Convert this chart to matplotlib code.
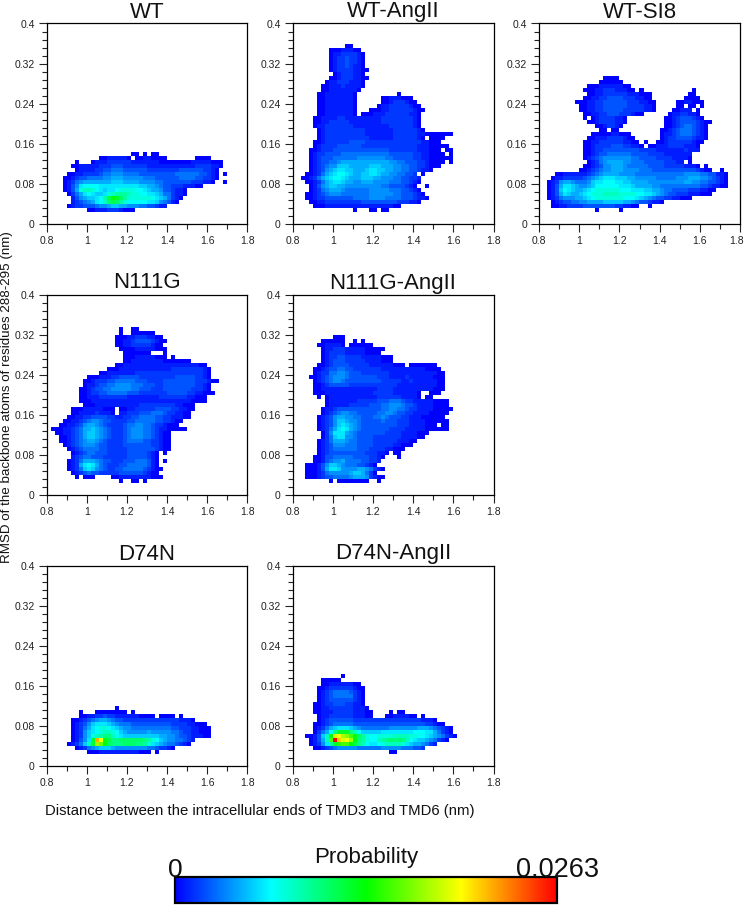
import numpy as np
import matplotlib
matplotlib.use('Agg')
import matplotlib.pyplot as plt
from matplotlib.colors import LinearSegmentedColormap, Normalize
from matplotlib.cm import ScalarMappable
from matplotlib.ticker import MultipleLocator
from matplotlib.transforms import ScaledTranslation

plt.rcParams['font.family'] = ['Liberation Sans', 'DejaVu Sans']

# each string is one row of bins, top row first, last row is bin 3
# '.' = empty bin, 0-9a-z = probability level (z is the maximum)
WT = [
".....................00.0.00",
".............00111110.00110000.......0000",
".......0..." "0111222222" "1111111000" "0000011111" "000",
"......00111" "1122233322" "2222111111" "1111112222" "110",
".......0111" "1223344433" "3333222222" "2233333322" "10",
".....001122" "2234455544" "4433333333" "3444444332" "10.0",
"....0012334" "4445566655" "5554443333" "3344443322" "10",
"....0124566" "6666677766" "6655554433" "3333322211" "0..0",
"....0135899" "9988888888" "8877665433" "22211100",
"....0136abb" "a987889aaa" "a998766533" "2110",
".....024689" "8778abcccb" "aa99887644" "2110",
"......13567" "789cfhgeca" "aaaaa98764" "210",
"......12345" "689befeca9" "9999887543" "10",
".....012233" "3455677665" "554433211",
"..........001112221000",
]
WT_ANGII = [
".............00",
".........00011100",
".........011222210",
".........012232210",
".........012232210",
".........012232110",
".........0122221100",
"..........01222110",
".........0012221100",
"........0112221110",
".......00111211110",
".......0011111110",
"......0011111110..........0",
"......0011111110......00111000",
"......0011111110......001222100",
"......0011111110.....01122222100",
"......0011111110...00011222222100",
"......0011111110.000111222222110",
"....." "0011112211" "1111111222" "2222210",
"....." "0011222221" "1111111222" "2222210",
"....." "0112222222" "1111111112" "2222210",
"......" "0122222222" "2211111112" "2222210",
"......" "0122222222" "2211111112" "2222211000" "0000",
"......" "0122222222" "2221111112" "2222210" ".0000",
"....." "0012222223" "3332222222" "2222222110" "00",
"....." "0122223333" "3322222222" "2222221110" "0000",
"...." "0012223333" "3333333333" "2222222111" "000.00",
"...." "0122333344" "4444444444" "3333332211" "0000.0",
"...." "0123334444" "4455555554" "4333332211" "000000",
"...." "0123344566" "6666666666" "5544333221" "0000.0",
"...." "0123455777" "6666677766" "6554433221" "000",
"...." "0123567887" "7666788776" "6554433211" "0",
"..." "0012467899" "8766778876" "65544332" ".0",
".." "0012467899" "8766677766" "5554433221",
"..." "001246788" "7665566655" "5544433210",
"...." "0135677665" "5555555544" "3333210" "..0",
"...." "0124566654" "4444455555" "44433210",
"..." "0012345554" "4444445555" "5544333210",
"..." "0012233333" "3344445555" "4444333211" "0",
"...." "0011222222" "2223333333" "33222110",
"....." "0001111111" "1111111111" "00",
"...............0...00.00",
]
WT_SI8 = [
"................0000",
"...............000000",
"............00011111100",
"...........0001122211100.0............0",
"............0011222222111000.........00",
"...........00112233332221100........0000",
".........0001122333" "3332221100" ".....0011000",
"..........0011223333" "332222110" ".....00.00.0",
"..........0011223333" "322222110" "....00111.0",
"...........00112233" "3222100" "......01122110",
"...........0.012222110" ".........0012333210",
"............0012222110" ".........001233332100",
"..............0012210" "..........00123443210",
"...............00.00" "..........001234443210",
".............0000011000" ".......011234443210",
"............001112222100" "......012233332110",
"...........00112222221100" ".0..001222222100",
"...........001222233322110" ".0011122221110",
"..........." "0012233333" "3333222211" "111112111",
"..........." "0012334444" "4433332222" "1111111",
"..........." "0123455555" "5544333322" "2211110",
"............" "0124566665" "5444333332" "2211" ".0",
"..........." "0012355666" "5444443333" "222221110" ".0",
".........." "0012345566" "6555544433" "3333333332" "100..0",
"...." "0011111123" "4566665555" "4444444444" "4455554433" "110",
"..." "0112222234" "5678887776" "6555554444" "4555666554" "3210",
".." "0125665444" "5788999887" "7666655555" "5555665544" "33210",
".." "0136887655" "6799999988" "8766665544" "4444444433" "21100",
".." "0137987667" "89aaaaaa99" "9888776654" "4333322211" "00",
".." "0136876678" "9aaabbbbaa" "aa99887654" "3322211100" "0",
".." "0124555667" "89aaaaaaa9" "9987654332" "211000",
"..." "0123344556" "6667777766" "54332110",
"..." "0011222233" "3333332211" "00..0",
"..............0.....0",
]
N111G = [
"..................0..00",
"..................0..000000",
".................000112221100",
".................0011233332100",
".................001122222100",
"..................000011111000",
"...................0000000...0",
"...................00011111000.0",
"...................00111111110000000",
".................0011111111" "1111111111" "100",
"...............0001111111" "1111112222" "222210",
".............0011111112" "2222222222" "22222210",
"..........0001112233" "3332222222" "2233333221" "0",
".........0012223344" "4443332222" "3333333322" "2100",
".........0112334455" "5544433322" "3333333322" "10",
"........0012334455" "5554433322" "2333333322" "210",
"........0012233444" "4433322222" "2233333221" "1000",
"........0011122222" "2211111111" "2222222110" "00",
"........0001111111" "1111111111" "1111111100" "00",
".........0001111111" "1111222222" "22211000",
"......00011111000.0011222223333221100",
"......00111121110.112223334443221100",
".....0011223333" "2211223344" "4433221110" "0",
"....0011234554" "3322223344" "4443322100",
"...0011235665" "4322223445" "5443221000",
".0001123466" "7654322234" "5554432110" "0000",
"..001123467" "7654322234" "5554432100",
"...00123467" "7654322234" "5554432100",
"...00123456" "6543222234" "4443322100",
"....0123455" "5433222233" "3333322100",
".....012344" "4433222223" "3333332100",
"......012344" "3332222233" "333210.0",
"......123443" "3322222233" "333210",
".....0124666" "5433222333" "444310.0",
".....0126898" "6432223344" "444310",
".....0124787" "5432233444" "4432100",
"......012343" "3222223333" "332100",
".......0.000....0011111111000",
"..................0..00.0",
]
N111G_ANGII = [
"..........000",
".......000000..0.0",
"......0011110.000000",
".......0112221111100000",
".......012222111110000",
".......012233222211111000",
".......012333222221111000",
"......0012333322" "2221111110" "00.0000000",
".....0012334433" "2222222111" "1111111100" "00",
".....0122445543" "3322222221" "1111111111" "100",
"....0012345554" "3333333222" "1111211111" "1000",
".....0123455433" "3333333222" "2211211111" "100",
".....0012333332" "2222222222" "2111111111" "100",
".....0011111111" "1111112222" "1111111111" "000",
".....0001111111" "1111122222" "1111110..000",
"......0.0111111111" "1112222221" "1110.00",
"........0111111122" "2223334443" "2211111000" "0",
"........0111112222" "2333445554" "3321111000" "0",
".......0112333333" "3333344554" "4322111100" "000",
".......0123455443" "3333445543" "3221111000" "00",
"......0123566554" "4333445433" "3221110000" "00",
"......0123577655" "4333334333" "2221111000" "000",
"......0123578765" "4333333333" "2221111000.00",
"......0124689865" "4333333322" "2211111000" "000",
".......0258886" "5433333332" "2221111000",
".......0247885" "5433332222" "222111100",
"......01246665" "4433332222" "2211100",
"......01235554" "4433332222" "211000",
"......01234444" "4433322221" "1000",
"......01233333" "3333222110.00",
".....00133444" "4433332210...0",
".....00134556" "444433221",
"...00013577" "6544433210",
"...00013688" "7555566542" "10",
"...00012455" "5556776420",
"...00012334" "4445666521" "00",
".........0.00000000..0",
]
D74N = [
".................0",
"........0...00000000.0",
"........0011223221" "111110000.0000.0",
"......0012345665" "4332222222" "2222222111" "0",
"......0123578887" "6544433333" "3333322221" "1000",
"......0124689aa9" "8765544444" "4444433222" "11000",
"......0125789abb" "a976555556" "5555544322" "11000",
"......01257abcdd" "b987777777" "7766554332" "11100",
"......01358gtqhf" "ddeeeeeedc" "a976554432" "1",
".....01247bgnlh" "edddeeeddc" "a876544321" "0",
".......0124567776" "5555555544" "32210",
"..........0001111111111000.0",
]
D74N_ANGII = [
"............0",
".......00000",
".......0011111100",
"......001222222100",
"......012344443210",
"......012344444210",
"......012333333210",
".....0012233322110",
".....00112222221110",
".....001112222211100....0.00",
"......01122222211100...00111100.0",
"......0123333332" "2222222222" "2222221110",
".....0012344444" "3333333333" "3333333322" "100",
".....0124678887" "6544444445" "5555556665" "43210",
".....02469dgggd" "b977777888" "8888899988" "64210",
"...00137bhpqn" "mkheca99aa" "aabbbbaa99" "87654210",
"....0136bkzspq" "nhdca99bcd" "ededb98776" "54210",
"....01258cgjkk" "hfdb9889ab" "bbba876654" "21",
".....0012345555" "5444444555" "55444332",
"........................00",
]

PANEL_TITLES = ['WT', 'WT-AngII', 'WT-SI8', 'N111G', 'N111G-AngII', 'D74N', 'D74N-AngII']
PANEL_ROWS = [WT, WT_ANGII, WT_SI8, N111G, N111G_ANGII, D74N, D74N_ANGII]
X_TICKS = [0.8, 1, 1.2, 1.4, 1.6, 1.8]
Y_TICKS = [0, 0.08, 0.16, 0.24, 0.32, 0.4]
PROB_MAX = 0.0263
X_LABEL = 'Distance between the intracellular ends of TMD3 and TMD6 (nm)'
Y_LABEL = 'RMSD of the backbone atoms of residues 288-295 (nm)'

W, H = 745, 905
# left, top of each panel in pixels
positions = [(46.5, 23.5), (292.5, 23.5), (539, 23.5),
             (46.5, 294.5), (292.5, 294.5),
             (46.5, 565.5), (292.5, 565.5)]
BOX_W, BOX_H = 201, 200.5

cmap = LinearSegmentedColormap.from_list('prob', ['#0000ff', '#00ffff', '#00ff00', '#ffff00', '#ff0000'])
norm = Normalize(0, PROB_MAX)


def to_grid(rows):
    grid = np.full((50, 50), np.nan)
    for k, row in enumerate(reversed(rows)):
        for c, ch in enumerate(row):
            if ch != '.':
                grid[k + 3, c] = int(ch, 36) / 35 * PROB_MAX
    return grid


def px_axes(fig, left, top, width, height):
    return fig.add_axes([left / W, 1 - (top + height) / H, width / W, height / H])


fig = plt.figure(figsize=(W / 100, H / 100), dpi=100)
x_edges = np.linspace(0.8, 1.8, 51)
y_edges = np.linspace(0, 0.4, 51)

for title, rows, (left, top) in zip(PANEL_TITLES, PANEL_ROWS, positions):
    ax = px_axes(fig, left, top, BOX_W, BOX_H)
    ax.pcolormesh(x_edges, y_edges, to_grid(rows), cmap=cmap, norm=norm, antialiased=False)
    ax.set_xlim(0.8, 1.8)
    ax.set_ylim(0, 0.4)
    ax.set_xticks(X_TICKS)
    ax.set_xticklabels(['%g' % v for v in X_TICKS])
    ax.set_yticks(Y_TICKS)
    ax.set_yticklabels(['%g' % v for v in Y_TICKS])
    ax.xaxis.set_minor_locator(MultipleLocator(0.1))
    ax.yaxis.set_minor_locator(MultipleLocator(0.016))
    ax.tick_params(which='major', length=6, width=0.8, labelsize=7.5, pad=2.5, colors='#222222')
    ax.tick_params(which='minor', length=3.5, width=0.8, colors='#222222')
    for s in ax.spines.values():
        s.set_linewidth(0.9)
    fig.text((left + BOX_W / 2) / W, 1 - (top - 6) / H, title, ha='center', va='baseline',
             fontsize=16, color='#111111')
    if title == 'WT-SI8':
        # last label sits right at the figure edge
        lab = ax.get_xticklabels()[-1]
        lab.set_transform(lab.get_transform() + ScaledTranslation(-3 / 100, 0, fig.dpi_scale_trans))

fig.text(7.5 / W, 1 - 397 / H, Y_LABEL, rotation=90, ha='center', va='center', fontsize=9.6, color='#111111')
fig.text(260 / W, 1 - 811 / H, X_LABEL, ha='center', va='center', fontsize=10.7, color='#111111')

# colour bar
cax = px_axes(fig, 175, 877, 382, 26)
fig.colorbar(ScalarMappable(norm=norm, cmap=cmap), cax=cax, orientation='horizontal')
cax.set_xticks([])
for s in cax.spines.values():
    s.set_linewidth(1.6)
fig.text(366 / W, 1 - 857 / H, 'Probability', ha='center', va='center', fontsize=16, color='#111111')
fig.text(175 / W, 1 - 877 / H, '0', ha='center', va='baseline', fontsize=19, color='#111111')
fig.text(558 / W, 1 - 877 / H, '0.0263', ha='center', va='baseline', fontsize=19.5, color='#111111')

fig.savefig('out.png', dpi=100)
